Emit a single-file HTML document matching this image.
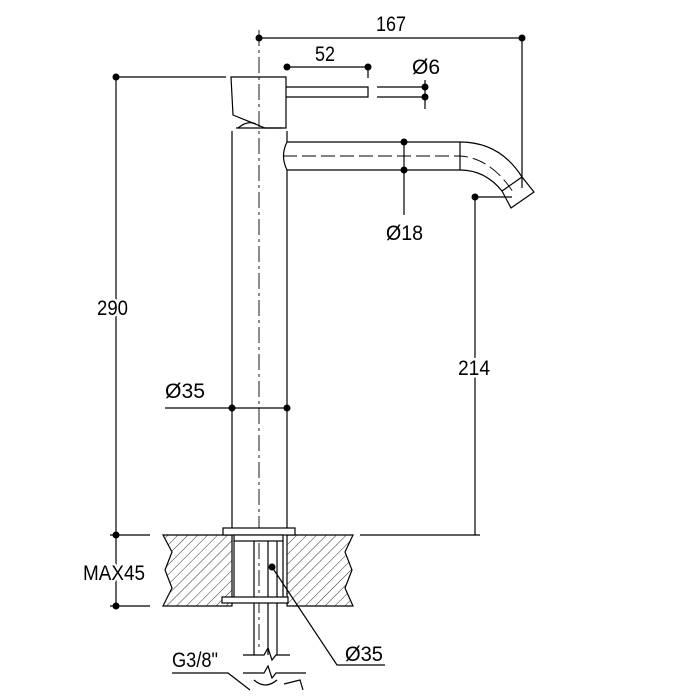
<!DOCTYPE html>
<html><head><style>body{margin:0;background:#fff}svg{display:block}</style></head><body>
<svg width="700" height="700" viewBox="0 0 700 700" xmlns="http://www.w3.org/2000/svg">
<defs>
<pattern id="h" patternUnits="userSpaceOnUse" width="7" height="7" patternTransform="rotate(45)">
<line x1="0" y1="0" x2="0" y2="7" stroke="#000" stroke-width="0.8"/>
</pattern>
</defs>
<g stroke="#000" fill="none" stroke-width="1.2">
<path d="M163,535 H232 V606 H163 L172,588 L165,570 L172,552 Z" fill="url(#h)"/>
<path d="M287,535 H353 L345,552 L352,570 L345,588 L353,606 H287 Z" fill="url(#h)"/>
<path d="M231,77 H286 V128 H265 L233,115 Z" fill="#fff"/>
<path d="M238,128 Q248,120 256,124"/>
<path d="M236,128 H282"/>
<path d="M286,87 H368 V97 H286"/>
<path d="M377,87 H425 M377,97 H425"/>
<path d="M425,80 V109"/>
<path d="M232,131 V528 M287,131 V142 M287,170 V528"/>
<path d="M287,142 H460 Q500,142 522,177"/>
<path d="M287,170 H460 Q485,170 502,191"/>
<path d="M287,142 Q280,156 287,170"/>
<path d="M460,142 V170"/>
<path d="M404,142 V215"/>
<path d="M502,191 L522,177 L534,192 L511,208 Z"/>
<path d="M283,156 H460 Q492,158 515,195" stroke-dasharray="14,5" stroke-width="0.9"/>
<path d="M259,38 H522 M522,38 V188"/>
<path d="M287,67 H368 M368,67 V78"/>
<path d="M116,77 H226 M116,77 V606"/>
<path d="M165,408 H287"/>
<path d="M475,197 H512 M475,197 V535"/>
<path d="M110,535 H150 M360,535 H480 M110,606 H150"/>
<path d="M259,30 V650" stroke-dasharray="16,4,3,4" stroke-width="0.9"/>
<rect x="223" y="528" width="72" height="7" fill="#fff"/>
<rect x="234" y="535" width="49" height="6" fill="#fff"/>
<path d="M254,541 V655 M277,541 V655 M268,541 V655 M283,541 V597 M234,541 V597"/>
<rect x="222" y="597" width="66" height="6" fill="#fff"/>
<path d="M243,655 H264 L268,648 L272,660 L276,655 H290"/>
<path d="M243,673 H264 L268,666 L272,678 L276,673 H306"/>
<path d="M254,680 Q265,690 277,680 M284,684 L300,680 L303,690"/>
<path d="M272,567 L337,665 H385"/>
<path d="M172,673 H228 L250,690"/>
</g>
<g fill="#000">
<circle cx="259" cy="38" r="3.5"/><circle cx="522" cy="38" r="3.5"/>
<circle cx="287" cy="67" r="3.5"/><circle cx="368" cy="67" r="3.5"/>
<circle cx="425" cy="87" r="3.5"/><circle cx="425" cy="97" r="3.5"/>
<circle cx="116" cy="77" r="3.5"/><circle cx="116" cy="535" r="3.5"/><circle cx="116" cy="606" r="3.5"/>
<circle cx="404" cy="142" r="3.5"/><circle cx="404" cy="170" r="3.5"/>
<circle cx="232" cy="408" r="3.5"/><circle cx="287" cy="408" r="3.5"/>
<circle cx="475" cy="197" r="3.5"/><circle cx="272" cy="567" r="3.5"/>
</g>
<g font-family="Liberation Sans, sans-serif" font-size="21" fill="#000" stroke="#fff" stroke-width="5" paint-order="stroke">
<text x="376" y="31" textLength="30" lengthAdjust="spacingAndGlyphs">167</text>
<text x="315" y="61" textLength="20" lengthAdjust="spacingAndGlyphs">52</text>
<text x="412" y="74" textLength="28" lengthAdjust="spacingAndGlyphs">Ø6</text>
<text x="386" y="240" textLength="37" lengthAdjust="spacingAndGlyphs">Ø18</text>
<text x="97" y="315" textLength="31" lengthAdjust="spacingAndGlyphs">290</text>
<text x="165" y="398" textLength="40" lengthAdjust="spacingAndGlyphs">Ø35</text>
<text x="458" y="375" textLength="32" lengthAdjust="spacingAndGlyphs">214</text>
<text x="83" y="580" textLength="62" lengthAdjust="spacingAndGlyphs">MAX45</text>
<text x="345" y="661" textLength="38" lengthAdjust="spacingAndGlyphs">Ø35</text>
<text x="172" y="667" textLength="46" lengthAdjust="spacingAndGlyphs">G3/8"</text>
</g>
</svg>
</body></html>
